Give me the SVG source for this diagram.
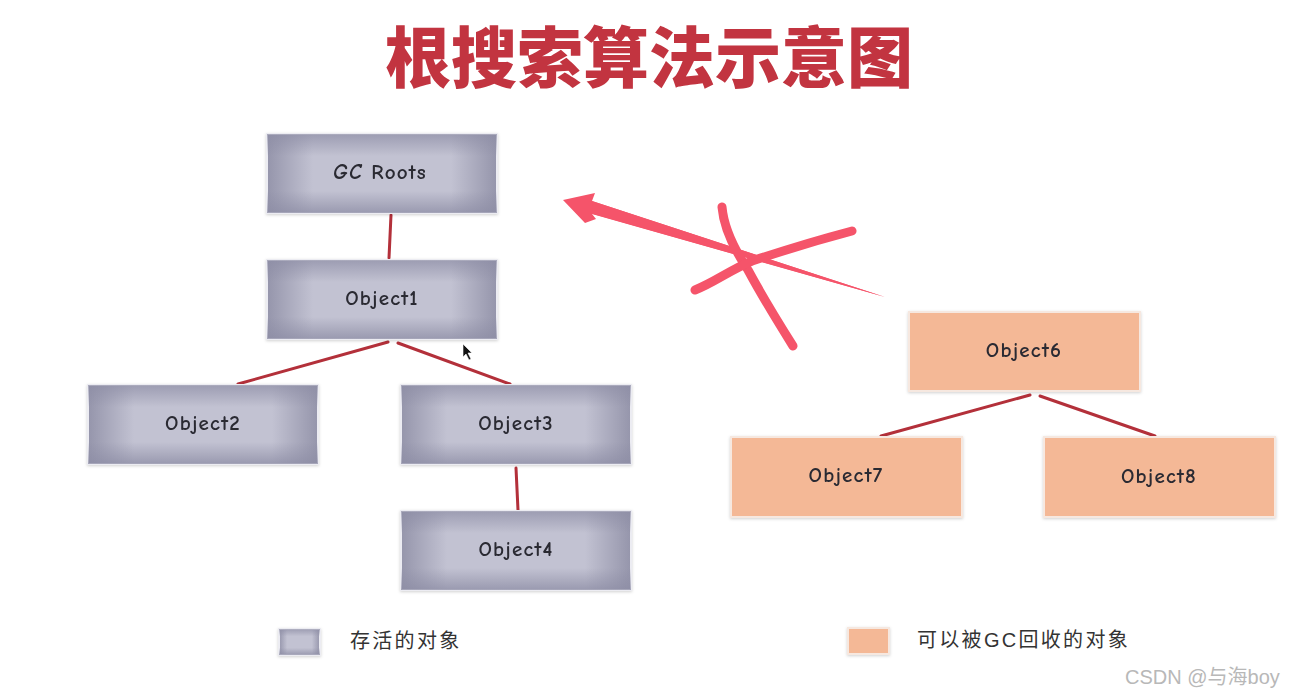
<svg xmlns="http://www.w3.org/2000/svg" width="1314" height="698" viewBox="0 0 1314 698">
<style>
.lbl{font-family:"Comic Neue","DejaVu Sans","Liberation Sans",sans-serif;font-size:21px;font-weight:700;letter-spacing:1.2px;fill:#2a2a33;text-anchor:middle}
.conn{stroke:#b3303a;stroke-width:3;fill:none;stroke-linecap:round}
.leg{font-family:"Liberation Sans","Noto Sans CJK SC",sans-serif;font-size:20px;letter-spacing:2.3px;fill:#333}
.mark{stroke:#f5546a;fill:none;stroke-linecap:round;stroke-linejoin:round}
</style>
<defs>
<linearGradient id="gh" x1="0" y1="0" x2="1" y2="0">
<stop offset="0" stop-color="#9595ab"/><stop offset="0.2" stop-color="#c2c2d2"/><stop offset="0.8" stop-color="#c2c2d2"/><stop offset="1" stop-color="#9595ab"/>
</linearGradient>
<linearGradient id="gv" x1="0" y1="0" x2="0" y2="1">
<stop offset="0" stop-color="#8c8ca4" stop-opacity="0.7"/><stop offset="0.28" stop-color="#8c8ca4" stop-opacity="0"/><stop offset="0.72" stop-color="#8c8ca4" stop-opacity="0"/><stop offset="1" stop-color="#8c8ca4" stop-opacity="0.75"/>
</linearGradient>
<filter id="sh" x="-10%" y="-10%" width="120%" height="130%">
<feDropShadow dx="0" dy="1" stdDeviation="1.5" flood-color="#000" flood-opacity="0.18"/>
</filter>
</defs>
<rect width="1314" height="698" fill="#ffffff"/>
<text x="649" y="82" font-family="'Noto Sans CJK SC',sans-serif" font-weight="900" font-size="66" fill="#c23440" text-anchor="middle">根搜索算法示意图</text>

<g id="connectors">
<line class="conn" x1="391" y1="215" x2="389" y2="258"/>
<line class="conn" x1="388" y1="342" x2="238" y2="384"/>
<line class="conn" x1="398" y1="343" x2="510" y2="384"/>
<line class="conn" x1="516" y1="468" x2="518" y2="510"/>
<line class="conn" x1="1030" y1="395" x2="881" y2="436"/>
<line class="conn" x1="1040" y1="396" x2="1155" y2="436"/>
</g>

<g id="gcroots" filter="url(#sh)"><rect x="267" y="134" width="230" height="79" fill="url(#gh)" stroke="#ececf2" stroke-width="2"/><rect x="267" y="134" width="230" height="79" fill="url(#gv)"/><text class="lbl" x="380" y="179"><tspan font-style="italic">GC</tspan>  Roots</text></g>
<g id="object1" filter="url(#sh)"><rect x="267" y="260" width="230" height="79" fill="url(#gh)" stroke="#ececf2" stroke-width="2"/><rect x="267" y="260" width="230" height="79" fill="url(#gv)"/><text class="lbl" x="382" y="305">Object1</text></g>
<g id="object2" filter="url(#sh)"><rect x="88" y="385" width="230" height="79" fill="url(#gh)" stroke="#ececf2" stroke-width="2"/><rect x="88" y="385" width="230" height="79" fill="url(#gv)"/><text class="lbl" x="203" y="430">Object2</text></g>
<g id="object3" filter="url(#sh)"><rect x="401" y="385" width="230" height="79" fill="url(#gh)" stroke="#ececf2" stroke-width="2"/><rect x="401" y="385" width="230" height="79" fill="url(#gv)"/><text class="lbl" x="516" y="430">Object3</text></g>
<g id="object4" filter="url(#sh)"><rect x="401" y="511" width="230" height="79" fill="url(#gh)" stroke="#ececf2" stroke-width="2"/><rect x="401" y="511" width="230" height="79" fill="url(#gv)"/><text class="lbl" x="516" y="556">Object4</text></g>

<g id="object6" filter="url(#sh)"><rect x="909" y="312" width="231" height="79" fill="#f4b896" stroke="#f6e8e0" stroke-width="2"/><text class="lbl" x="1024" y="357">Object6</text></g>
<g id="object7" filter="url(#sh)"><rect x="731" y="437" width="231" height="80" fill="#f4b896" stroke="#f6e8e0" stroke-width="2"/><text class="lbl" x="846" y="482">Object7</text></g>
<g id="object8" filter="url(#sh)"><rect x="1044" y="437" width="231" height="80" fill="#f4b896" stroke="#f6e8e0" stroke-width="2"/><text class="lbl" x="1159" y="483">Object8</text></g>

<g id="cross-arrow">
<path d="M885,297 L592,214 L596,219 L585,223 L563,200 L595,193 L592,201 Z" fill="#f5546a"/>
<path d="M592,201 L593,214 L885,297 Z" fill="#f5546a"/>
<path class="mark" stroke-width="9" d="M722,207 C724,230 736,252 748,270 C762,296 778,322 793,346"/>
<path class="mark" stroke-width="9" d="M695,290 C715,282 730,270 752,261 C785,250 818,240 852,231"/>
</g>

<g id="cursor"><path d="M463,344 L463,357 L466,354 L469,360 L471,359 L468,353 L472,353 Z" fill="#111" stroke="#fff" stroke-width="0.6"/></g>

<g id="legend">
<g filter="url(#sh)"><rect x="279" y="629" width="41" height="26" fill="url(#gh)" stroke="#ececf2" stroke-width="2"/><rect x="279" y="629" width="41" height="26" fill="url(#gv)"/></g>
<text class="leg" x="350" y="648">存活的对象</text>
<rect x="848" y="628" width="41" height="26" fill="#f4b896" stroke="#f6e8e0" stroke-width="2" filter="url(#sh)"/>
<text class="leg" x="917" y="647">可以被GC回收的对象</text>
</g>

<text x="1125" y="684" font-family="'Liberation Sans','Noto Sans CJK SC',sans-serif" font-size="20" fill="#b8b8b8">CSDN @与海boy</text>
</svg>
